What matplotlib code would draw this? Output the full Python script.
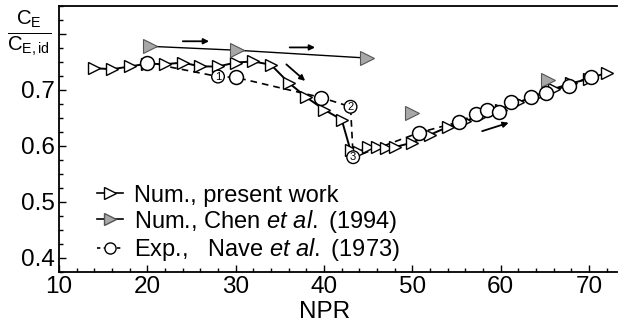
import matplotlib
matplotlib.use("Agg")
import matplotlib.pyplot as plt
from matplotlib.lines import Line2D
from matplotlib.ticker import MultipleLocator

plt.rcParams['font.family'] = ['Liberation Sans', 'DejaVu Sans']
plt.rcParams['mathtext.fontset'] = 'custom'
plt.rcParams['mathtext.rm'] = 'Liberation Sans'
plt.rcParams['mathtext.it'] = 'Liberation Sans:italic'

# Num., present work
npr_num = [14, 16, 18, 20, 22, 24, 26, 28, 30, 32, 34, 36, 38, 40, 42, 43,
           44, 45, 46, 47, 48, 50, 52, 54, 56, 58, 60, 62, 64, 66, 68, 70, 72]
ce_num = [0.739, 0.737, 0.742, 0.747, 0.746, 0.749, 0.742, 0.742, 0.749, 0.751,
          0.745, 0.713, 0.687, 0.665, 0.647, 0.592,
          0.590, 0.598, 0.598, 0.597, 0.598, 0.606, 0.620, 0.634, 0.645, 0.655,
          0.665, 0.678, 0.690, 0.702, 0.712, 0.720, 0.731]

# Num., Chen et al. (1994)
npr_chen = [20.3, 30.1, 44.9]
ce_chen = [0.778, 0.771, 0.757]
npr_chen_pts = [50.0, 65.3]
ce_chen_pts = [0.659, 0.717]

# Exp., Nave et al. (1973)
npr_exp = [20, 28, 30, 39.7, 43, 43.3, 50.8, 55.3, 57.2, 58.5, 59.8, 61.2,
           63.4, 65.1, 67.7, 70.2]
ce_exp = [0.749, 0.724, 0.7225, 0.6865, 0.670, 0.580, 0.624, 0.643, 0.657,
          0.665, 0.661, 0.678, 0.688, 0.695, 0.708, 0.724]
numbered = {1: '1', 4: '2', 5: '3'}

# arrows: (x0, y0, x1, y1)
arrows = [(23.7, 0.787, 27.3, 0.787),
          (35.8, 0.776, 39.3, 0.776),
          (35.5, 0.749, 38.1, 0.713),
          (57.6, 0.625, 61.2, 0.643)]

fig = plt.figure(figsize=(6.19, 3.29), dpi=100)
ax = fig.add_axes([0.0953, 0.1733, 0.902, 0.8085])

# Exp line + circles
ax.plot(npr_exp, ce_exp, color='black', lw=1.2, ls=(0, (4, 3)), zorder=2)
circ_x = [x for i, x in enumerate(npr_exp) if i not in numbered]
circ_y = [y for i, y in enumerate(ce_exp) if i not in numbered]
ax.plot(circ_x, circ_y, ls='none', marker='o', ms=10, mfc='white', mec='black', mew=1.1, zorder=4)

# Present work
ax.plot(npr_num, ce_num, color='black', lw=1.4, marker='>', ms=9,
        mfc='white', mec='black', mew=1.0, zorder=3)

# Chen et al.
ax.plot(npr_chen, ce_chen, color='black', lw=1.0, marker='>', ms=10,
        mfc='#a8a8a8', mec='#555555', mew=0.8, zorder=3)
ax.plot(npr_chen_pts, ce_chen_pts, ls='none', marker='>', ms=10,
        mfc='#a8a8a8', mec='#555555', mew=0.8, zorder=3)

for i, lab in numbered.items():
    ax.text(npr_exp[i], ce_exp[i], lab, ha='center', va='center', fontsize=8,
            bbox=dict(boxstyle='circle,pad=0.12', fc='white', ec='black', lw=1.0), zorder=5)

for x0, y0, x1, y1 in arrows:
    ax.annotate('', xy=(x1, y1), xytext=(x0, y0),
                arrowprops=dict(arrowstyle='-|>', color='black', lw=1.3, mutation_scale=8))

ax.set_xlim(10, 73.2)
ax.set_ylim(0.375, 0.85)
ax.set_xticks([10, 20, 30, 40, 50, 60, 70])
ax.xaxis.set_minor_locator(MultipleLocator(2))
ax.set_yticks([0.4, 0.5, 0.6, 0.7, 0.8])
ax.set_yticklabels(['0.4', '0.5', '0.6', '0.7', ''])
ax.yaxis.set_minor_locator(MultipleLocator(0.025))
ax.tick_params(which='both', direction='in', labelsize=17.5, width=1.0)
ax.tick_params(which='major', length=5, pad=3)
ax.tick_params(which='minor', length=3)
ax.spines['right'].set_visible(False)
for s in ['left', 'bottom', 'top']:
    ax.spines[s].set_linewidth(1.3)

ax.set_xlabel('NPR', fontsize=17.5, labelpad=0)
ax.xaxis.set_label_coords(0.475, -0.108)

fig.text(0.047, 0.9, r'$\frac{\mathrm{C_E}}{\mathrm{C_{E,id}}}$', fontsize=21,
         ha='center', va='center')

handles = [
    Line2D([], [], color='black', lw=1.2, marker='>', ms=8, mfc='white', mec='black'),
    Line2D([], [], color='black', lw=1.2, marker='>', ms=8, mfc='#a8a8a8', mec='#555555'),
    Line2D([], [], color='black', lw=1.2, ls=(0, (2, 2)), marker='o', ms=8, mfc='white', mec='black'),
]
labels = ['Num., present work',
          r'Num., Chen $\it{et\ al.}$ (1994)',
          r'Exp.,   Nave $\it{et\ al.}$ (1973)']
ax.legend(handles, labels, loc='upper left', bbox_to_anchor=(0.138, 0.475),
          bbox_transform=fig.transFigure, frameon=False, fontsize=17,
          handlelength=1.1, handletextpad=0.45, labelspacing=0.05, borderpad=0)

fig.savefig('out.png', dpi=100)
